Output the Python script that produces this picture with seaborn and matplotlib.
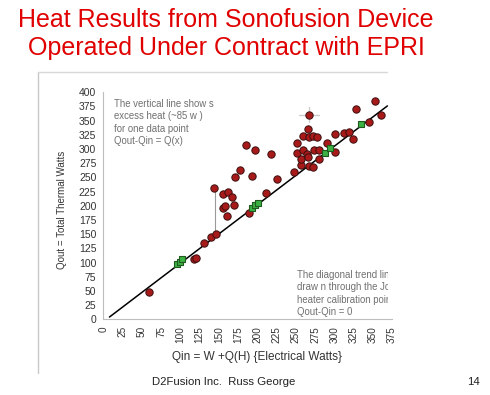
import numpy as np
import pandas as pd
import seaborn as sns
import matplotlib
matplotlib.use('Agg')
from matplotlib import pyplot as plt
from matplotlib.lines import Line2D
from matplotlib.transforms import Bbox, TransformedBbox

# data (watts)
red_qin = [59.7, 117.5, 121, 130.8, 139.5, 146.4, 143.8, 155, 162.3, 167.1, 155.8, 158.5, 160.3,
           170.1, 170.6, 177.5, 185.3, 197.4, 193.1, 189.6, 218.2, 225.2, 211.3, 248.1, 251.9,
           251.9, 256.4, 256.8, 258.9, 259.7, 264.2, 265.5, 266.2, 266.8, 267.5, 267.5, 272,
           272.7, 274, 277.1, 279.7, 280.1, 290.9, 301.3, 301.3, 313, 319.1, 323.9, 328.2,
           344.7, 353.2, 360.6]
red_qout = [48.6, 107, 107.5, 135, 144.5, 150.3, 231.9, 220, 224.3, 216, 195.6, 199.6, 182,
            201.4, 250.2, 263, 307, 298.9, 252, 186.8, 291.8, 247.2, 222, 259, 311.2,
            292.5, 271.9, 283, 298.3, 323.5, 291.3, 286.5, 335.9, 360.5, 321.8, 270.1, 268.4,
            323, 297.8, 321.8, 282.5, 297.8, 311.2, 294.3, 326.5, 328.8, 330, 318.2, 370.6,
            348.2, 385.2, 360.5]
cal_qin = [95.5, 99, 102.6, 193, 197, 201, 288, 294.4, 334.3]
cal_qout = [97, 101, 105.5, 196, 201, 204.5, 293.6, 301.8, 344.1]
trend_x = [8, 369]
trend_y = [4, 376]
excess_x = 145
excess_lo, excess_hi = 150, 232
err_pt = (266.8, 360.5)
err_size = 13

sns.set_style('white')
plt.rcParams['font.family'] = ['Liberation Sans', 'DejaVu Sans']

W, H = 490, 395
fig = plt.figure(figsize=(W / 100, H / 100), dpi=100)
ax = fig.add_axes([103.3 / W, 1 - 319.3 / H, (392 - 103.3) / W, (319.3 - 92.3) / H])

red = pd.DataFrame({'qin': red_qin, 'qout': red_qout})
cal = pd.DataFrame({'qin': cal_qin, 'qout': cal_qout})
trend = pd.DataFrame({'qin': trend_x, 'qout': trend_y})

# excess heat line and error cross
ax.plot([excess_x, excess_x], [excess_lo, excess_hi], color='#9a9a9a', lw=0.8, zorder=1)
ax.plot([err_pt[0] - err_size, err_pt[0] + err_size], [err_pt[1], err_pt[1]], color='#cccccc', lw=1, zorder=1)
ax.plot([err_pt[0], err_pt[0]], [err_pt[1] - err_size, err_pt[1] + err_size], color='#cccccc', lw=1, zorder=1)

sns.lineplot(data=trend, x='qin', y='qout', color='black', lw=1.1, ax=ax, zorder=2)
sns.scatterplot(data=red, x='qin', y='qout', color='#a81a1a', edgecolor='#3a0e0e',
                linewidth=0.7, s=28, ax=ax, zorder=3)
sns.scatterplot(data=cal, x='qin', y='qout', marker='s', color='#3cb043', edgecolor='#1f5a1f',
                linewidth=0.8, s=22, ax=ax, zorder=4)

ax.set_xlim(0, 375)
ax.set_ylim(0, 400)
ax.set_xticks(range(0, 376, 25))
ax.set_yticks(range(0, 401, 25))
ax.set_xlabel('')
ax.set_ylabel('')
ax.tick_params(axis='both', direction='inout', length=6, width=0.8, color='#bdbdbd',
               labelcolor='#333333', pad=2)
ax.tick_params(axis='y', labelsize=7.5)
ax.tick_params(axis='x', labelsize=7.2, labelrotation=90)
for side in ['top', 'right']:
    ax.spines[side].set_visible(False)
for side in ['left', 'bottom']:
    ax.spines[side].set_color('#bdbdbd')
    ax.spines[side].set_linewidth(0.8)

# annotations
fig.text(114 / W, 1 - 99 / H, 'The vertical line show s\nexcess heat (~85 w )\nfor one data point\nQout-Qin = Q(x)',
         fontsize=6.9, color='#707070', va='top', ha='left', linespacing=1.3)
t2 = fig.text(296.7 / W, 1 - 270 / H,
              'The diagonal trend line\ndraw n through the Joule\nheater calibration points\nQout-Qin = 0',
              fontsize=6.9, color='#707070', va='top', ha='left', linespacing=1.3)
t2.set_clip_box(TransformedBbox(Bbox([[0, 0], [388 / W, 1]]), fig.transFigure))
t2.set_clip_on(True)

fig.text(62 / W, 1 - 210 / H, 'Qout = Total Thermal Watts', rotation=90, fontsize=7,
         color='#333333', ha='center', va='center')
fig.text(256.7 / W, 1 - 356.7 / H, 'Qin = W +Q(H) {Electrical Watts}', fontsize=8.5,
         color='#333333', ha='center', va='center')

# slide title and footer
fig.text(226 / W, 1 - 34 / H, 'Heat Results from Sonofusion Device\nOperated Under Contract with EPRI',
         fontsize=18, color='#e00000', ha='center', va='center', linespacing=1.25)
fig.text(223.3 / W, 1 - 382 / H, 'D2Fusion Inc.  Russ George', fontsize=8.2, color='#222222',
         ha='center', va='center')
fig.text(473 / W, 1 - 382 / H, '14', fontsize=8.2, color='#222222', ha='center', va='center')

# faint chart frame from the slide
fig.add_artist(Line2D([37.7 / W, 37.7 / W], [1 - 72 / H, 1 - 373 / H], color='#c8c8c8', lw=1))
fig.add_artist(Line2D([37.7 / W, 387 / W], [1 - 72 / H, 1 - 72 / H], color='#d8d8d8', lw=1))

fig.savefig('out.png', dpi=100, facecolor='white')
